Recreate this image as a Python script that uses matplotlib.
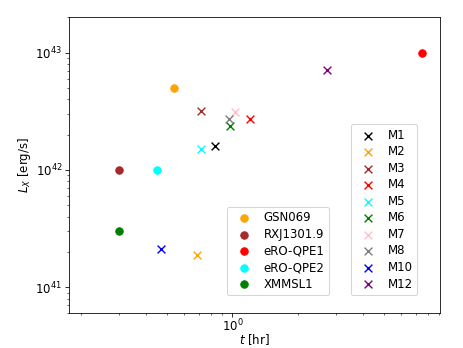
import matplotlib
matplotlib.use("Agg")
import matplotlib.pyplot as plt

# Observed QPE sources (circles)
obs_names = ["GSN069", "RXJ1301.9", "eRO-QPE1", "eRO-QPE2", "XMMSL1"]
obs_t = [0.54, 0.30, 7.5, 0.45, 0.30]
obs_L = [5.0e42, 1.0e42, 1.0e43, 1.0e42, 3.0e41]
obs_colors = ["orange", "brown", "red", "cyan", "green"]

# Model points (crosses)
mod_names = ["M1", "M2", "M3", "M4", "M5", "M6", "M7", "M8", "M10", "M12"]
mod_t = [0.83, 0.69, 0.72, 1.21, 0.72, 0.97, 1.025, 0.96, 0.47, 2.74]
mod_L = [1.6e42, 1.9e41, 3.2e42, 2.7e42, 1.5e42, 2.37e42, 3.1e42, 2.7e42, 2.1e41, 7.1e42]
mod_colors = ["black", "orange", "brown", "red", "cyan", "green", "pink", "gray", "blue", "purple"]

DPI = 72.35
plt.rcParams["font.size"] = 11.7

fig = plt.figure(figsize=(463 / DPI, 348 / DPI), dpi=DPI)
ax = fig.add_axes([0.1497, 0.0997, 0.8006, 0.8506])

h_obs = []
for n, t, L, c in zip(obs_names, obs_t, obs_L, obs_colors):
    h_obs.append(ax.scatter(t, L, color=c, marker="o", s=55, label=n))
h_mod = []
for n, t, L, c in zip(mod_names, mod_t, mod_L, mod_colors):
    h_mod.append(ax.scatter(t, L, color=c, marker="x", s=60, linewidths=1.4, label=n))

ax.set_xscale("log")
ax.set_yscale("log")
ax.set_xlim(0.177, 9.06)
ax.set_ylim(6.0e40, 2.0e43)
ax.tick_params(axis="x", which="both", pad=1.0)
ax.set_xlabel("$t$ [hr]", labelpad=-2)
ax.set_ylabel("$L_X$ [erg/s]", labelpad=2)

leg1 = ax.legend(handles=h_obs, loc="lower right", bbox_to_anchor=(0.701, 0.061),
                 borderaxespad=0, labelspacing=0.3, handletextpad=0.7)
ax.add_artist(leg1)
ax.legend(handles=h_mod, loc="lower right", bbox_to_anchor=(0.939, 0.061),
          borderaxespad=0, labelspacing=0.3, handletextpad=0.7)

fig.savefig("out.png", dpi=DPI)
